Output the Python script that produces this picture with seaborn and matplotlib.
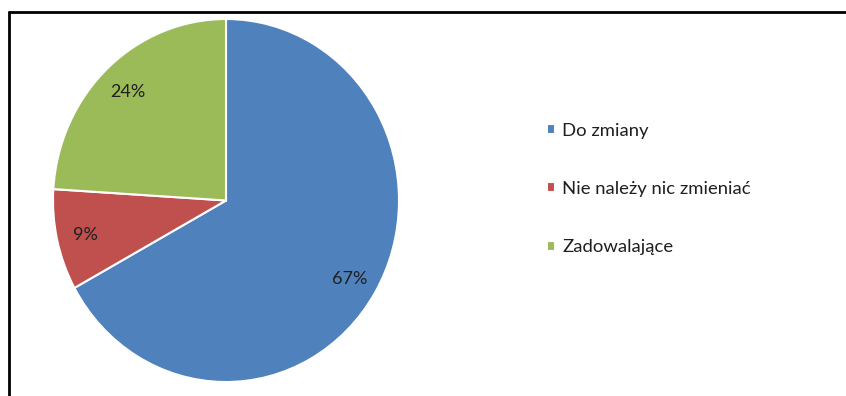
import matplotlib
matplotlib.use('Agg')
import matplotlib.pyplot as plt
import seaborn as sns

# Data
categories = ['Do zmiany', 'Nie należy nic zmieniać', 'Zadowalające']
shares = [67, 9, 24]
colors = ['#4F81BD', '#C0504D', '#9BBB59']

sns.set_theme(style='white')
plt.rcParams['font.family'] = ['Lato', 'DejaVu Sans']

fig = plt.figure(figsize=(8.46, 3.96), dpi=100)
# pie area (slightly stretched vertically like the source image)
ax = fig.add_axes([53 / 846, 14 / 396, 346 / 846, 363 / 396])

wedges, texts, autotexts = ax.pie(
    shares, colors=colors, startangle=90, counterclock=False,
    autopct='%1.0f%%', pctdistance=0.83,
    wedgeprops=dict(edgecolor='white', linewidth=1.5),
    textprops=dict(fontsize=13, color='#1f1f1f'))
for t in autotexts:
    t.set_va('center_baseline')
ax.set_aspect('auto')
ax.set_xlim(-1, 1)
ax.set_ylim(-1, 1)

# legend on the right
fig.legend(wedges, categories, loc='center left', bbox_to_anchor=(530 / 846, 1 - 189 / 396),
           frameon=False, fontsize=13.3, labelspacing=2.3,
           handlelength=0.45, handleheight=0.45, handletextpad=0.4,
           labelcolor='#1f1f1f')

# border lines (top and left)
fig.add_artist(plt.Line2D([9 / 846, 1], [1 - 12 / 396, 1 - 12 / 396], color='black', lw=2,
                          transform=fig.transFigure))
fig.add_artist(plt.Line2D([9 / 846, 9 / 846], [0, 1 - 12 / 396], color='black', lw=2,
                          transform=fig.transFigure))

fig.savefig('out.png', dpi=100)
plt.close(fig)
